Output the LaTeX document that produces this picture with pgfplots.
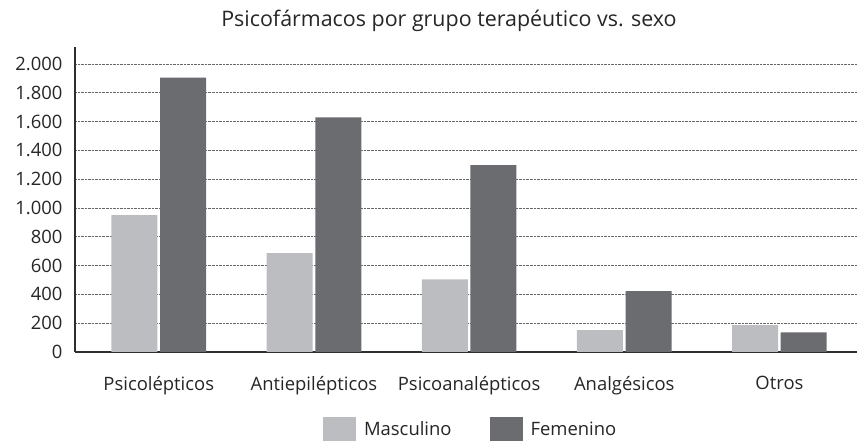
\documentclass[border=0pt]{standalone}
\usepackage{pgfplots}
\pgfplotsset{compat=1.18}
\usepackage{fontspec}
\setmainfont{Open Sans}
\definecolor{masc}{HTML}{BCBDC0}
\definecolor{fem}{HTML}{6B6C70}
\definecolor{axc}{HTML}{2E2E30}
\begin{document}
\begin{tikzpicture}[x=1bp,y=1bp]
\useasboundingbox (0,0) rectangle (858,441);
\node[font=\fontsize{21.5}{24}\selectfont, text=black!85] at (449,420) {Psicofármacos por grupo terapéutico vs. sexo};
\begin{axis}[
  at={(75bp,89bp)}, anchor=south west,
  scale only axis, width=782bp, height=305bp,
  xmin=-0.54, xmax=4.5, ymin=0, ymax=2118,
  axis x line*=bottom, axis y line*=left,
  axis line style={axc, line width=1.8pt, -},
  xtick={0,1,2,3,4},
  xticklabels={Psicolépticos,Antiepilépticos,Psicoanalépticos,Analgésicos,Otros},
  ytick={0,200,...,2000},
  major tick length=0pt,
  ymajorgrids,
  grid style={densely dotted, black!60, line width=0.6pt},
  tick label style={font=\fontsize{18.5}{21}\selectfont, text=black!85},
  xticklabel style={yshift=-21bp},
  yticklabel style={xshift=-9bp},
  /pgf/number format/.cd, 1000 sep={.}, assume math mode=true,
  /pgfplots/.cd,
  legend style={at={(0.506,-0.254)}, anchor=center, draw=none, legend columns=2,
    font=\fontsize{18.5}{21}\selectfont, text=black!85,
    /tikz/every odd column/.append style={column sep=6bp},
    /tikz/every even column/.append style={column sep=36bp}},
  legend image code/.code={\fill[#1] (0bp,-12bp) rectangle (33bp,12bp);},
]
\addplot[ybar, bar width=46bp, bar shift=-24.3bp, fill=masc, draw=none] coordinates {(0,950) (1,686) (2,505) (3,151) (4,186)};
\addplot[ybar, bar width=46bp, bar shift=24.3bp, fill=fem, draw=none] coordinates {(0,1905) (1,1630) (2,1298) (3,422) (4,137)};
\legend{Masculino,Femenino}
\end{axis}
\end{tikzpicture}
\end{document}
